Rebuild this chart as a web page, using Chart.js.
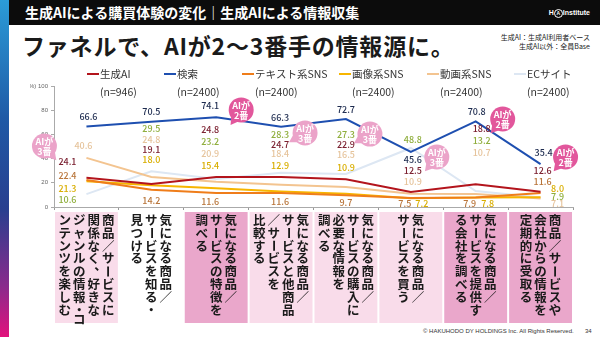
<!DOCTYPE html>
<html><head><meta charset="utf-8">
<script src="https://cdn.jsdelivr.net/npm/chart.js@4/dist/chart.umd.min.js"></script>
<style>
html,body{margin:0;padding:0;width:600px;height:337px;overflow:hidden;background:#fff;font-family:"Noto Sans CJK JP","Noto Sans",sans-serif;}
#stripe{position:absolute;left:0;top:0;width:9px;height:337px;background:linear-gradient(#2b9cd8 0%,#1f5aa6 35%,#283f8f 62%,#8a2a8c 85%,#e2127c 100%);}
#head{position:absolute;left:9px;top:0;width:591px;height:25px;background:#0c0c0c;}
#headtxt{position:absolute;left:16px;top:3px;color:#fff;font-size:14px;font-weight:700;line-height:18px;white-space:nowrap;}
#logo{position:absolute;right:10px;top:8px;color:#fff;font-size:7px;font-weight:700;line-height:9px;white-space:nowrap;font-family:"Liberation Sans",sans-serif;}
#logo span{display:inline-block;border:1px solid #fff;border-radius:50%;width:7px;height:7px;line-height:7px;text-align:center;font-size:5px;vertical-align:middle;}
#title{position:absolute;left:22px;top:31px;color:#1a1a1a;font-size:23px;font-weight:700;line-height:28px;letter-spacing:0.8px;white-space:nowrap;}
#note{position:absolute;right:10px;top:33px;text-align:right;color:#222;font-size:7px;line-height:9px;white-space:nowrap;}
#foot{position:absolute;left:423px;top:327px;color:#333;font-size:6px;line-height:8px;white-space:nowrap;font-family:"Liberation Sans",sans-serif;}
#page{position:absolute;left:585px;top:327px;color:#333;font-size:6px;line-height:8px;font-family:"Liberation Sans",sans-serif;}
canvas{position:absolute;left:0;top:0;}
</style></head>
<body>
<div id="stripe"></div>
<div id="head"><div id="headtxt">生成AIによる購買体験の変化｜生成AIによる情報収集</div><div id="logo">H<span>A</span>Institute</div></div>
<div id="title">ファネルで、AIが2〜3番手の情報源に。</div>
<div id="note">生成AI：生成AI利用者ベース<br>生成AI以外：全員Base</div>
<div id="foot">© HAKUHODO DY HOLDINGS Inc. All Rights Reserved.</div>
<div id="page">34</div>
<canvas id="c" width="600" height="337"></canvas>
<script>
// ---- data ----
const categories = [
  ['商品／サービスに','関係なく、好きな','ジャンルの情報・コ','ンテンツを楽しむ'],
  ['気になる商品／','サービスを知る・','見つける'],
  ['気になる商品／','サービスの特徴を','調べる'],
  ['気になる商品／','サービスと他商品','／サービスを','比較する'],
  ['気になる商品／','サービスの購入に','必要な情報を','調べる'],
  ['気になる商品／','サービスを買う'],
  ['気になる商品／','サービスを提供す','る会社を調べる'],
  ['商品／サービスや','会社からの情報を','定期的に受取る']
];
const seriesNames = ['生成AI','検索','テキスト系SNS','画像系SNS','動画系SNS','ECサイト'];
const sampleSizes = ['(n=946)','(n=2400)','(n=2400)','(n=2400)','(n=2400)','(n=2400)'];
const genAI    = [24.1, 19.1, 24.8, 24.7, 22.9, 12.5, 18.8, 12.6];
const search   = [66.6, 70.5, 74.1, 66.3, 72.7, 45.6, 70.8, 35.4];
const textSNS  = [22.4, 14.2, 11.6, 11.6,  9.7,  7.5,  7.9, 11.6];
const imageSNS = [21.3, 18.0, 15.4, 12.9, 10.9,  7.2,  7.8,  8.0];
const videoSNS = [40.6, 24.8, 20.9, 18.4, 16.5, 10.9, 10.7,  7.1];
const ecSite   = [10.6, 29.5, 23.2, 28.3, 27.3, 48.8, 13.2,  7.9];
const yTicks   = [0, 20, 40, 60, 80, 100];

// ---- styles / layout ----
const series = [genAI, search, textSNS, imageSNS, videoSNS, ecSite];
const lineColors  = ['#b3141c','#1e4fb0','#ef7d1a','#f7b500','#f3c490','#dde7f3'];
const labelColors = ['#7b2030','#1d2b4f','#b9753a','#d9ae00','#e6c49c','#8fae3c'];
const legendX = [100,177,255,352,440,527];
// per category: [seriesIndex, anchor value (y-units), dx px]
const labelLayout = [
  [[1,74.6,2],[4,50.4,-3],[0,37.4,-19],[2,25.6,-19],[3,15.5,-19],[5,6.4,-19]],
  [[1,78.8,0],[5,65.0,0],[4,56.0,0],[0,47.1,0],[3,39.4,0],[2,5.0,0]],
  [[1,83.5,-6],[0,64.2,-6],[5,54.0,-6],[4,44.4,-6],[3,33.9,-6],[2,4.4,-6]],
  [[1,73.6,-1],[5,59.9,-1],[0,51.7,-1],[4,43.8,-1],[3,33.9,-1],[2,4.1,-1]],
  [[1,80.2,0],[5,60.1,0],[0,51.2,0],[4,43.0,0],[3,32.5,0],[2,3.6,0]],
  [[5,56.0,2],[1,38.8,2],[0,29.8,2],[4,20.9,2],[2,2.7,-6],[3,2.7,11]],
  [[1,78.8,1],[0,64.5,6],[5,54.5,6],[4,45.2,6],[2,2.7,-6],[3,2.7,12]],
  [[1,44.9,3],[0,29.8,2],[2,20.9,2],[3,15.5,17],[5,8.5,17],[4,2.7,17]]
];
// bubble: [dx px, anchor value, tail angle deg]
const bubbleLayout = [[-42,50.4,50],null,[25,80.2,125],[24,61.2,150],[24,60.3,150],[26,41.3,130],[27,72.7,130],[25,41.3,130]];

function aiRank(i){
  const v = genAI[i];
  return 1 + series.filter((s,k)=>k!==0 && s[i] > v).length;
}

const overlay = {
  id:'overlay',
  afterDraw(chart){
    const ctx = chart.ctx, xs = chart.scales.x, ys = chart.scales.y;
    const font = "'Noto Sans CJK JP','Noto Sans',sans-serif";
    ctx.save();
    // legend
    ctx.textBaseline='middle'; ctx.textAlign='left';
    seriesNames.forEach((n,i)=>{
      const x = legendX[i];
      ctx.strokeStyle = lineColors[i]; ctx.lineWidth=2;
      ctx.beginPath(); ctx.moveTo(x-13,74); ctx.lineTo(x-1,74); ctx.stroke();
      ctx.fillStyle='#333'; ctx.font='10.5px '+font;
      ctx.fillText(n, x, 74);
      ctx.fillText(sampleSizes[i], x, 92);
    });
    // category boxes with vertical text
    const half = (xs.getPixelForValue(1)-xs.getPixelForValue(0))/2;
    categories.forEach((lines,i)=>{
      const cx = xs.getPixelForValue(i);
      const r = aiRank(i);
      const fill = r===2 ? '#eaa7cb' : (r===3 ? '#f9dcea' : '#ffffff');
      ctx.fillStyle = fill;
      ctx.fillRect(cx-half+1, 212, half*2-2, 111);
      const step = 14.5, n = lines.length, fs = 12.5;
      ctx.fillStyle='#1a1a1a'; ctx.font='700 '+fs+'px '+font;
      ctx.textAlign='center'; ctx.textBaseline='middle';
      lines.forEach((ln,c)=>{
        const x = cx + (n-1)/2*step - c*step;
        let y = 220;
        for (const ch of ln){
          if (ch==='ー' || ch==='〜'){
            ctx.save(); ctx.translate(x,y); ctx.rotate(Math.PI/2); ctx.fillText(ch,0,0); ctx.restore();
          } else if (ch==='、' || ch==='。'){
            ctx.fillText(ch, x+fs*0.55, y-fs*0.5);
          } else {
            ctx.fillText(ch, x, y);
          }
          y += (ch==='・') ? 9 : 12.9;
        }
      });
    });
    // bubbles
    ctx.textAlign='center'; ctx.textBaseline='middle';
    bubbleLayout.forEach((b,i)=>{
      if(!b) return;
      const r = aiRank(i); if (r>3) return;
      const bx = xs.getPixelForValue(i)+b[0], by = ys.getPixelForValue(b[1]);
      const rad = 12.5, a = b[2]*Math.PI/180;
      ctx.fillStyle = r===2 ? '#e2579c' : '#eba3c9';
      ctx.beginPath(); ctx.arc(bx,by,rad,0,Math.PI*2); ctx.fill();
      const tx = bx+Math.cos(a)*(rad+6), ty = by+Math.sin(a)*(rad+6);
      const a1 = a-0.45, a2 = a+0.45;
      ctx.beginPath(); ctx.moveTo(bx+Math.cos(a1)*rad*0.9, by+Math.sin(a1)*rad*0.9);
      ctx.lineTo(tx,ty); ctx.lineTo(bx+Math.cos(a2)*rad*0.9, by+Math.sin(a2)*rad*0.9); ctx.closePath(); ctx.fill();
      ctx.fillStyle='#fff'; ctx.font='700 9px '+font;
      ctx.fillText('AIが', bx, by-4.5);
      ctx.fillText(r+'番', bx, by+5.5);
    });
    // data labels
    ctx.font='500 9px '+font; ctx.textAlign='center'; ctx.textBaseline='middle';
    labelLayout.forEach((arr,i)=>{
      const cx = xs.getPixelForValue(i);
      arr.forEach(([s,v,dx])=>{
        ctx.fillStyle = labelColors[s];
        ctx.fillText(series[s][i].toFixed(1), cx+dx, ys.getPixelForValue(v));
      });
    });
    ctx.restore();
  }
};

new Chart(document.getElementById('c'), {
  type:'line',
  data:{
    labels: categories.map(c=>c.join('')),
    datasets: series.map((s,i)=>({label:seriesNames[i], data:s, borderColor:lineColors[i], backgroundColor:lineColors[i], borderWidth:2, pointRadius:0, tension:0, fill:false}))
  },
  options:{
    responsive:false, animation:false, devicePixelRatio:1,
    layout:{padding:{left:30,right:27,top:86,bottom:0}},
    plugins:{legend:{display:false}, tooltip:{enabled:false}},
    scales:{
      x:{offset:true, grid:{offset:true, drawOnChartArea:false, drawTicks:true, tickLength:3, color:'#999'}, border:{color:'#aaa'}, ticks:{display:false}, afterFit(s){s.height=130;}},
      y:{min:0, max:100, afterBuildTicks(s){s.ticks = yTicks.map(v=>({value:v}));},
         ticks:{font:{size:6, family:"'Liberation Sans',sans-serif"}, color:'#666', padding:3, callback:(v)=> v===100 ? '(%) 100' : v},
         grid:{drawOnChartArea:false, tickLength:3, color:'#aaa'}, border:{color:'#aaa'}, afterFit(s){s.width=24;}}
    }
  },
  plugins:[overlay]
});
</script>
</body></html>
